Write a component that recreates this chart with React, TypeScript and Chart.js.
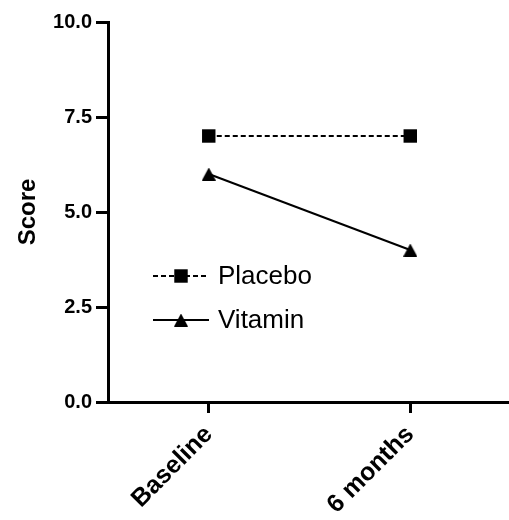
import React, { useEffect, useRef } from "react";
import { Chart, registerables } from "chart.js";

Chart.register(...registerables);

const categories = ["Baseline", "6 months"];
const seriesNames = ["Placebo", "Vitamin"];
const placeboValues = [7, 7];
const vitaminValues = [6, 4];
const yTickValues = [0, 2.5, 5, 7.5, 10];

const FONT = "'Liberation Sans', Arial, Helvetica, sans-serif";

function makeTriangle(w: number, h: number): HTMLCanvasElement {
  const c = document.createElement("canvas");
  c.width = w;
  c.height = h;
  const ctx = c.getContext("2d")!;
  ctx.fillStyle = "#000";
  ctx.beginPath();
  ctx.moveTo(w / 2, 0);
  ctx.lineTo(w, h);
  ctx.lineTo(0, h);
  ctx.closePath();
  ctx.fill();
  return c;
}

const inlineLegend = {
  id: "inlineLegend",
  afterDatasetsDraw(chart: any) {
    const ctx = chart.ctx;
    const a = chart.chartArea;
    const x0 = a.left + 45;
    const x1 = a.left + 101;
    const mx = (x0 + x1) / 2;
    const tx = a.left + 110;
    const rows = [a.top + 254, a.top + 298];
    chart.data.datasets.forEach((ds: any, i: number) => {
      const y = rows[i];
      ctx.save();
      ctx.strokeStyle = "#000";
      ctx.lineWidth = 2;
      ctx.setLineDash(ds.borderDash || []);
      ctx.beginPath();
      ctx.moveTo(x0, y);
      ctx.lineTo(x1, y);
      ctx.stroke();
      ctx.setLineDash([]);
      ctx.fillStyle = "#000";
      if (ds.pointStyle === "rect") {
        const s = Math.SQRT1_2 * ds.pointRadius;
        ctx.fillRect(mx - s, y - s, 2 * s, 2 * s);
      } else if (ds.pointStyle && ds.pointStyle.width) {
        const img = ds.pointStyle;
        ctx.drawImage(img, mx - img.width / 2, y - img.height / 2);
      }
      ctx.font = `26px ${FONT}`;
      ctx.textBaseline = "middle";
      ctx.textAlign = "left";
      ctx.fillText(ds.label, tx, y + 1);
      ctx.restore();
    });
  },
};

export default function App() {
  const ref = useRef<HTMLCanvasElement | null>(null);

  useEffect(() => {
    if (!ref.current) return;
    const tri = makeTriangle(14, 13);
    const chart = new Chart(ref.current, {
      type: "line",
      data: {
        datasets: [
          {
            label: seriesNames[0],
            data: placeboValues.map((v, i) => ({ x: i, y: v })),
            borderColor: "#000",
            backgroundColor: "#000",
            borderWidth: 2,
            borderDash: [5, 3],
            pointStyle: "rect",
            pointRadius: 9.5,
            pointBorderWidth: 0,
            pointBackgroundColor: "#000",
            fill: false,
          },
          {
            label: seriesNames[1],
            data: vitaminValues.map((v, i) => ({ x: i, y: v })),
            borderColor: "#000",
            backgroundColor: "#000",
            borderWidth: 2,
            pointStyle: tri as any,
            pointRadius: 7,
            pointBorderWidth: 0,
            fill: false,
          },
        ],
      },
      options: {
        responsive: false,
        animation: false,
        layout: { autoPadding: false, padding: { top: 22, right: 0, left: 0, bottom: 0 } },
        plugins: {
          legend: { display: false },
          tooltip: { enabled: false },
        },
        scales: {
          x: {
            type: "linear",
            min: -0.5,
            max: 1.49,
            afterBuildTicks: (s: any) => {
              s.ticks = categories.map((_, i) => ({ value: i }));
            },
            afterFit: (s: any) => {
              s.height = 118;
              s.paddingRight = 0;
              s.paddingLeft = 0;
            },
            ticks: {
              autoSkip: false,
              minRotation: 45,
              maxRotation: 45,
              padding: 7,
              color: "#000",
              font: { size: 25, weight: "bold", family: FONT },
              callback: (v: any) => categories[Number(v)] ?? "",
            },
            grid: {
              drawOnChartArea: false,
              tickLength: 11,
              tickWidth: 3,
              tickColor: "#000",
            },
            border: { display: true, width: 3, color: "#000" },
          },
          y: {
            min: 0,
            max: 10,
            afterBuildTicks: (s: any) => {
              s.ticks = yTickValues.map((v) => ({ value: v }));
            },
            afterFit: (s: any) => {
              s.width = 108;
            },
            ticks: {
              padding: 4,
              color: "#000",
              font: { size: 20, weight: "bold", family: FONT },
              callback: (v: any) => Number(v).toFixed(1),
            },
            grid: {
              drawOnChartArea: false,
              tickLength: 12,
              tickWidth: 3,
              tickColor: "#000",
            },
            border: { display: true, width: 3, color: "#000" },
            title: {
              display: true,
              text: "Score",
              color: "#000",
              font: { size: 24, weight: "bold", family: FONT },
              padding: { top: 14, bottom: 0 },
            },
          },
        },
      },
      plugins: [inlineLegend],
    });
    return () => chart.destroy();
  }, []);

  return (
    <div style={{ position: "fixed", left: 0, top: 0, width: 509, height: 520, background: "#fff" }}>
      <canvas ref={ref} width={509} height={520} />
    </div>
  );
}
